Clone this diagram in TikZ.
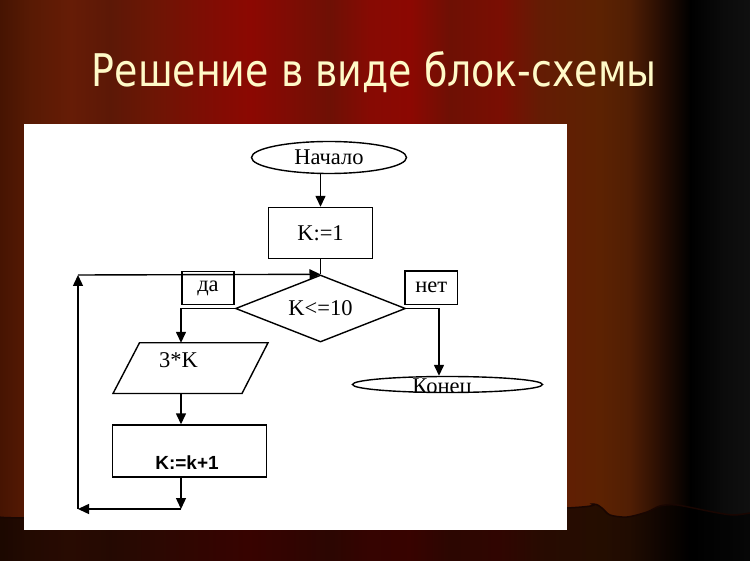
\documentclass[tikz,border=0pt]{standalone}
\usepackage{fontspec}
\usepackage{graphicx}
\setmainfont{Liberation Serif}
\newfontfamily\titlefont{DejaVu Sans}
\newfontfamily\arialfont{Liberation Sans}
\usetikzlibrary{shapes.geometric,arrows.meta,calc}
\definecolor{s0}{RGB}{70,20,2}
\definecolor{s1}{RGB}{88,26,4}
\definecolor{s2}{RGB}{102,28,6}
\definecolor{s3}{RGB}{92,24,6}
\definecolor{s4}{RGB}{108,22,5}
\definecolor{s5}{RGB}{125,14,4}
\definecolor{s6}{RGB}{140,8,2}
\definecolor{s7}{RGB}{126,12,4}
\definecolor{s8}{RGB}{110,16,5}
\definecolor{s9}{RGB}{135,10,3}
\definecolor{s10}{RGB}{140,8,2}
\definecolor{s11}{RGB}{110,16,4}
\definecolor{s12}{RGB}{122,14,3}
\definecolor{s13}{RGB}{100,28,4}
\definecolor{s14}{RGB}{92,34,2}
\definecolor{s15}{RGB}{80,30,4}
\definecolor{s16}{RGB}{40,14,3}
\definecolor{s17}{RGB}{0,0,0}
\definecolor{s18}{RGB}{10,10,10}
\definecolor{s19}{RGB}{16,16,16}
\definecolor{titlecol}{RGB}{255,250,200}
\definecolor{wavecol}{RGB}{25,6,2}
\begin{document}
\begin{tikzpicture}[x=1pt,y=-1pt,
  line/.style={line width=1.4pt, black},
  arr/.style={line, -{Triangle[length=11pt,width=10pt]}},
  box/.style={draw, line width=1.4pt, black, rectangle, inner sep=0pt},
  lbl/.style={font=\fontsize{22.5pt}{26pt}\selectfont, inner sep=0pt, text=black},
  incfont/.style={font=\arialfont\bfseries\fontsize{19pt}{22pt}\selectfont, inner sep=0pt, text=black},
  titlestyle/.style={anchor=base west, inner sep=0pt}]
\useasboundingbox (0,0) rectangle (750,561);
% curtain background
\foreach \xa/\xb/\ca/\cb in {0/30/s0/s1,30/70/s1/s2,70/110/s2/s3,110/150/s3/s4,150/200/s4/s5,200/250/s5/s6,250/290/s6/s7,290/330/s7/s8,330/370/s8/s9,370/410/s9/s10,410/450/s10/s11,450/500/s11/s12,500/540/s12/s13,540/600/s13/s14,600/630/s14/s15,630/660/s15/s16,660/690/s16/s17,690/720/s17/s18,720/750/s18/s19}
  \fill[left color=\ca, right color=\cb] (\xa,0) rectangle (\xb+0.7,561);
\fill[black, opacity=0.6] plot[smooth] coordinates {(0,516) (24,518) (300,520) (567,508) (593,504) (602,508) (610,515) (627,517) (647,512) (660,506) (677,505) (713,512) (733,515) (750,513)} -- (750,561) -- (0,561) -- cycle;
\draw[wavecol, line width=1.5pt] plot[smooth] coordinates {(0,516) (24,518) (300,520) (567,508) (593,504) (602,508) (610,515) (627,517) (647,512) (660,506) (677,505) (713,512) (733,515) (750,513)};
% title
\node[titlestyle, text=titlecol] (title) at (91.7,87) {\resizebox{565pt}{\height}{\titlefont\fontsize{45pt}{54pt}\selectfont Решение в виде блок-схемы}};
% white panel
\fill[white] (24,124) rectangle (567,530);
% flowchart nodes
\node[ellipse, draw, line, minimum width=155pt, minimum height=32pt, lbl] (start) at (329,157.5) {Начало};
\node[box, minimum width=103.5pt, minimum height=51pt, lbl] (k1) at (320.5,233) {K:=1};
\node[diamond, draw, line, aspect=2.5, minimum width=170pt, minimum height=67pt, lbl] (cond) at (320.5,308.5) {K<=10};
\node[box, minimum width=52.3pt, minimum height=32.6pt, lbl] (da) at (208,288) {да};
\node[box, minimum width=52.3pt, minimum height=33.3pt, lbl] (net) at (431.2,287.7) {нет};
% parallelogram (input/output)
\coordinate (pTL) at (139.5,342.8);
\coordinate (pTR) at (268,342.8);
\coordinate (pBR) at (242,393.5);
\coordinate (pBL) at (113,393.5);
\draw[line, line join=miter] (pBL) -- (pTL) -- (pTR) -- (pBR) -- cycle;
\node[lbl] (para) at (178.5,360) {3*K};
\node[box, minimum width=154.5pt, minimum height=52pt] (inc) at (189.5,451) {};
\node[incfont] (inctxt) at (187,463) {K:=k+1};
\node[ellipse, draw, line, minimum width=190pt, minimum height=16pt, inner sep=0pt] (finish) at (447.5,384.5) {};
\begin{scope}
  \clip (330,360) rectangle (560,392.4);
  \node[lbl, anchor=base] (finishtxt) at (442,393.5) {Конец};
\end{scope}
% connectors
\coordinate (spine) at (181,0);
\coordinate (bot) at (181,509);
\coordinate (botleft) at (78,509);
\coordinate (topleft) at (78,275);
\draw[arr] (k1.north |- start.south) -- (k1.north);
\draw[line] (k1.south) -- (cond.north);
\draw[arr] (cond.west) -| (spine |- pTL);
\draw[arr] (spine |- pBL) -- (spine |- inc.north);
\draw[arr] (spine |- inc.south) -- (bot);
\draw[arr] (bot) -- (botleft);
\draw[arr] (botleft) -- (topleft);
\draw[arr] (topleft) -- (cond.north);
\draw[arr] (cond.east) -| ([xshift=-8.5pt]finish.north);
\end{tikzpicture}
\end{document}
